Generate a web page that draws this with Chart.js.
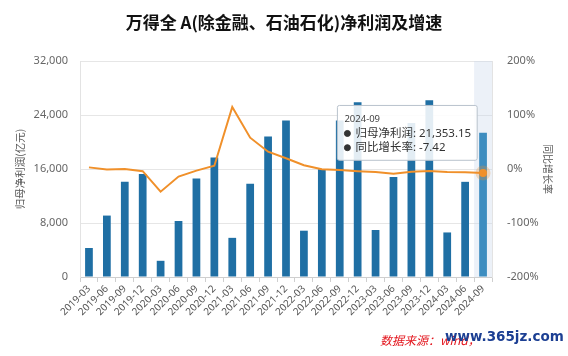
<!DOCTYPE html>
<html>
<head>
<meta charset="utf-8">
<script src="https://cdn.jsdelivr.net/npm/chart.js@4.4.1/dist/chart.umd.min.js"></script>
<style>
  html, body { margin:0; padding:0; background:#fff; }
  #wrap { position:relative; width:568px; height:356px; overflow:hidden; }
  #title { position:absolute; left:0; top:10px; width:568px; text-align:center; font-family:"Noto Sans CJK SC", sans-serif; font-weight:bold; font-size:17px; color:#111; line-height:24px; }
  #src { position:absolute; left:380px; top:332px; font-family:"Noto Sans CJK SC", sans-serif; font-style:italic; font-size:12px; line-height:16px; color:#e3141c; white-space:nowrap; }
  #wm { position:absolute; left:445px; top:327px; font-family:"DejaVu Sans", sans-serif; font-weight:bold; font-size:13.5px; line-height:18px; color:#1c3f93; white-space:nowrap; }
  canvas { position:absolute; left:0; top:0; }
</style>
</head>
<body>
<div id="wrap">
  <canvas id="c" width="568" height="356"></canvas>
  <div id="title">万得全 A(除金融、石油石化)净利润及增速</div>
  <div id="src">数据来源：wind，</div>
  <div id="wm">www.365jz.com</div>
</div>
<script>
const categories = ['2019-03','2019-06','2019-09','2019-12','2020-03','2020-06','2020-09','2020-12','2021-03','2021-06','2021-09','2021-12','2022-03','2022-06','2022-09','2022-12','2023-03','2023-06','2023-09','2023-12','2024-03','2024-06','2024-09'];
const netProfit = [4300, 9100, 14100, 15260, 2400, 8300, 14600, 17700, 5800, 13800, 20800, 23200, 6860, 15960, 23200, 25900, 6960, 14800, 22800, 26200, 6600, 14100, 21353.15];
const growthRate = [3, -1, 0, -4, -42, -14, -3, 6, 115, 58, 32, 20, 7, -0.5, -2, -4, -5.5, -8.6, -5, -3.7, -5.5, -6, -7.42];
const leftTicks = [0, 8000, 16000, 24000, 32000];
const rightTicks = [-200, -100, 0, 100, 200];
const rightTitle = '同比增长率';
const activeIndex = categories.length - 1;

const FONT = '"Noto Sans", "Noto Sans CJK SC", sans-serif';

Chart.Tooltip.positioners.leftOfBar = function(items) {
  if (!items.length) return false;
  const bar = items.find(i => i.datasetIndex === 0) || items[0];
  const el = bar.element;
  return { x: el.x - (el.width || 8) / 2 - 2, y: el.y };
};

const bandPlugin = {
  id: 'band',
  beforeDatasetsDraw(chart) {
    const x = chart.scales.x;
    const ca = chart.chartArea;
    const w = (ca.right - ca.left) / categories.length;
    const cx = x.getPixelForValue(activeIndex);
    const ctx = chart.ctx;
    ctx.save();
    ctx.fillStyle = 'rgba(200,214,234,0.35)';
    ctx.fillRect(cx - w / 2, ca.top, w, ca.bottom - ca.top);
    ctx.restore();
  },
  afterDraw(chart) {
    const s = chart.scales.y1;
    const ctx = chart.ctx;
    ctx.save();
    ctx.translate(s.right - 20, (s.top + s.bottom) / 2);
    ctx.rotate(Math.PI / 2);
    ctx.font = '10px "Noto Sans CJK SC", sans-serif';
    ctx.fillStyle = '#555';
    ctx.textAlign = 'center';
    ctx.textBaseline = 'middle';
    ctx.fillText(rightTitle, 0, 0);
    ctx.restore();
  }
};

const chart = new Chart(document.getElementById('c'), {
  type: 'bar',
  data: {
    labels: categories,
    datasets: [
      {
        type: 'bar', label: '归母净利润', data: netProfit, yAxisID: 'y',
        backgroundColor: '#1f6fa4', hoverBackgroundColor: '#3d8dc0',
        categoryPercentage: 0.9, barPercentage: 0.48, order: 2
      },
      {
        type: 'line', label: '同比增长率', data: growthRate, yAxisID: 'y1',
        borderColor: '#f0902a', borderWidth: 2, pointRadius: 0,
        pointHoverRadius: 4, pointHoverBackgroundColor: '#f0902a',
        pointHoverBorderColor: 'rgba(240,144,42,0.28)', pointHoverBorderWidth: 7,
        tension: 0, order: 1
      }
    ]
  },
  options: {
    responsive: false,
    animation: false,
    events: [],
    layout: { padding: { top: 61, left: 0, right: 0, bottom: 0 } },
    plugins: {
      legend: { display: false },
      title: { display: false },
      tooltip: {
        enabled: true,
        position: 'leftOfBar',
        xAlign: 'right', yAlign: 'center',
        caretSize: 0, caretPadding: 0,
        backgroundColor: 'rgba(255,255,255,0.88)',
        borderColor: '#b8c2cc', borderWidth: 1, cornerRadius: 2,
        titleColor: '#444', titleFont: { family: FONT, size: 9.5, weight: 'normal', lineHeight: 1.2 },
        titleMarginBottom: 2,
        bodyColor: '#333', bodyFont: { family: FONT, size: 11.5, lineHeight: 1.15 },
        bodySpacing: 1,
        padding: { top: 8, bottom: 6, left: 7, right: 6 },
        usePointStyle: true, boxWidth: 6, boxHeight: 6, boxPadding: 3,
        itemSort: (a, b) => a.datasetIndex - b.datasetIndex,
        callbacks: {
          label: (c) => c.datasetIndex === 0
            ? '归母净利润: ' + c.parsed.y.toLocaleString('en-US', { minimumFractionDigits: 2, maximumFractionDigits: 2 })
            : '同比增长率: ' + c.parsed.y.toFixed(2).replace(/0$/, ''),
          labelColor: () => ({ borderColor: '#333', backgroundColor: '#333' }),
          labelPointStyle: () => ({ pointStyle: 'circle', rotation: 0 })
        }
      }
    },
    scales: {
      x: {
        offset: true,
        grid: { display: true, drawOnChartArea: false, drawTicks: true, tickLength: 5, color: '#cfcfcf', offset: true },
        border: { display: true, color: '#cfcfcf' },
        ticks: { autoSkip: false, maxRotation: 45, minRotation: 45, font: { family: FONT, size: 10 }, color: '#555', padding: 1 },
        afterFit: (s) => { s.height = 79; }
      },
      y: {
        position: 'left', min: leftTicks[0], max: leftTicks[leftTicks.length - 1],
        afterBuildTicks: (s) => { s.ticks = leftTicks.map(v => ({ value: v })); },
        ticks: { callback: (v) => v.toLocaleString('en-US'), font: { family: FONT, size: 11 }, color: '#666', padding: 12 },
        grid: { color: '#e6e6e6', drawTicks: false },
        border: { display: true, color: '#e3e3e3' },
        title: { display: true, text: '归母净利润(亿元)', color: '#555', font: { family: '"Noto Sans CJK SC", sans-serif', size: 10.5 }, padding: { top: 14, bottom: 0 } },
        afterFit: (s) => { s.width = 80; }
      },
      y1: {
        position: 'right', min: rightTicks[0], max: rightTicks[rightTicks.length - 1],
        afterBuildTicks: (s) => { s.ticks = rightTicks.map(v => ({ value: v })); },
        ticks: { callback: (v) => v + '%', font: { family: FONT, size: 11 }, color: '#666', padding: 15 },
        grid: { drawOnChartArea: false, drawTicks: false },
        border: { display: true, color: '#e3e3e3' },
        title: { display: false },
        afterFit: (s) => { s.width = 76; }
      }
    }
  },
  plugins: [bandPlugin]
});

const act = [{ datasetIndex: 0, index: activeIndex }, { datasetIndex: 1, index: activeIndex }];
chart.setActiveElements(act);
const barEl = chart.getDatasetMeta(0).data[activeIndex];
chart.tooltip.setActiveElements(act, { x: barEl.x, y: barEl.y });
chart.update();
</script>
</body>
</html>
